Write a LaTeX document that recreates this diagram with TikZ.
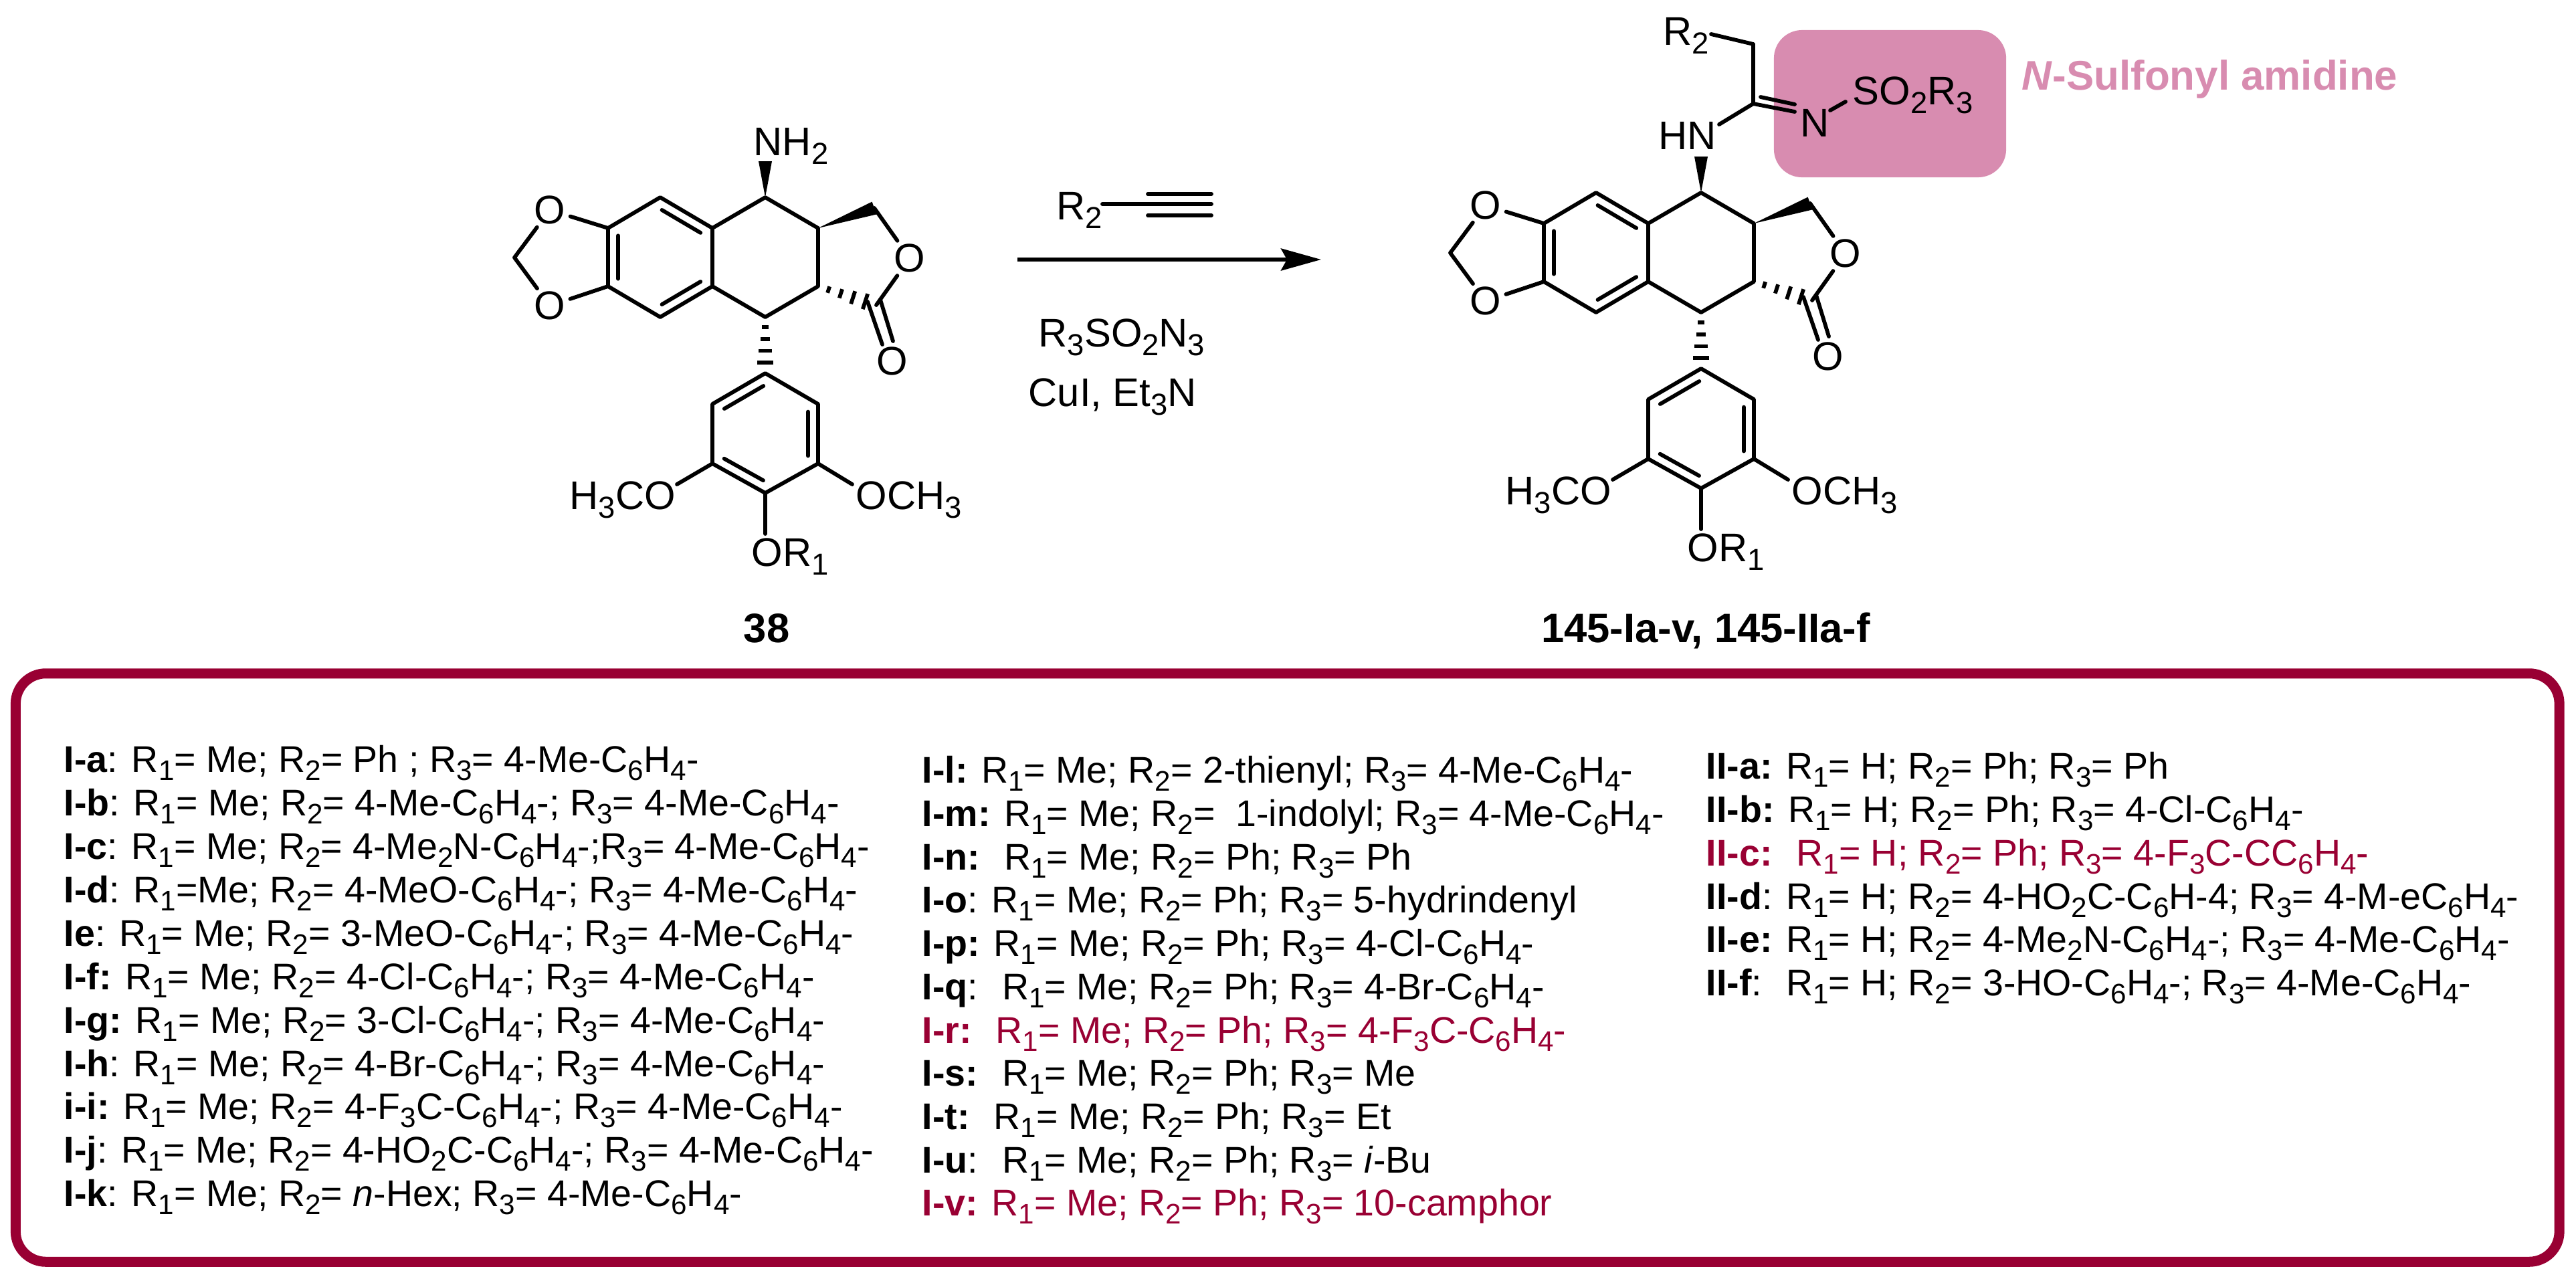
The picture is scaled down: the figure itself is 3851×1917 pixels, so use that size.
\documentclass[tikz,border=0pt]{standalone}
\usepackage{fontspec}
\setmainfont{Liberation Sans}
\usetikzlibrary{calc,arrows.meta}
\definecolor{boxred}{HTML}{990033}
\definecolor{amidine}{HTML}{D88CB0}
\newcommand{\dn}[1]{\raisebox{-.22em}{\scalebox{.76}{#1}}}
\newcommand{\innerbond}[2]{\draw[bond] ($(#1)!.13!(#2)!.15cm!-90:(#2)$) -- ($(#2)!.13!(#1)!.15cm!90:(#1)$);}
\newcommand{\wedgebond}[2]{\fill (#1) -- ($(#2)!.1cm!90:(#1)$) -- ($(#2)!.1cm!-90:(#1)$) -- cycle;}
\newcommand{\hashbond}[2]{\foreach \t/\w in {.18/.05,.39/.07,.60/.10,.81/.12}{
	\path ($(#1)!\t!(#2)$) coordinate (hp);
	\draw[bond,line cap=butt] ($(hp)!\w cm!90:(#2)$) -- ($(hp)!\w cm!-90:(#2)$);}}
\tikzset{
	bond/.style={line width=1.65pt,line cap=round,line join=round},
	atom/.style={circle,inner sep=0pt,font=\fontsize{17}{20}\selectfont},
	lab/.style={inner sep=0pt,anchor=base west,font=\fontsize{17}{20}\selectfont},
	rowtxt/.style={inner sep=0pt,anchor=base west,font=\fontsize{15.8}{18}\selectfont},
	hitrow/.style={rowtxt,text=boxred},
	podo/.pic={
		% benzo ring
		\coordinate (a1) at (909,341); \coordinate (a2) at (987,295); \coordinate (a3) at (1065,341);
		\coordinate (a4) at (1065,428); \coordinate (a5) at (987,474); \coordinate (a6) at (909,428);
		% middle ring
		\coordinate (b1) at (1144,295); \coordinate (b2) at (1223,341);
		\coordinate (b3) at (1223,428); \coordinate (b4) at (1144,474);
		% aryl ring
		\coordinate (c1) at (1144,558); \coordinate (c2) at (1223,604); \coordinate (c3) at (1223,693);
		\coordinate (c4) at (1144,737); \coordinate (c5) at (1065,693); \coordinate (c6) at (1065,604);
		% dioxole
		\node[atom] (ot) at (822,314) {O};
		\node[atom] (ob) at (822,457) {O};
		\coordinate (cm) at (769,385);
		% lactone
		\coordinate (lh) at (1307,311);
		\coordinate (lc) at (1310,456);
		\node[atom] (lo) at (1360,386) {O};
		\node[atom] (co) at (1334,540) {O};
		\coordinate (d1) at (1297,451); \coordinate (d2) at (1319,515);
		\coordinate (d3) at (1316,448); \coordinate (d4) at (1335,510);
		\draw[bond] (a1) -- (a2) -- (a3) -- (a4) -- (a5) -- (a6) -- cycle;
		\draw[bond] (a3) -- (b1) -- (b2) -- (b3) -- (b4) -- (a4);
		\draw[bond] (c1) -- (c2) -- (c3) -- (c4) -- (c5) -- (c6) -- cycle;
		\innerbond{a2}{a3} \innerbond{a4}{a5} \innerbond{a6}{a1}
		\innerbond{c2}{c3} \innerbond{c4}{c5} \innerbond{c6}{c1}
		\draw[bond] (a1) -- (ot) -- (cm) -- (ob) -- (a6);
		\draw[bond] (lh) -- (lo) -- (lc);
		\draw[bond] (d1) -- (d2);
		\draw[bond] (d3) -- (d4);
		\hashbond{b3}{lc}
		\hashbond{b4}{c1}
		\wedgebond{b2}{lh}
		\coordinate (nw) at (1144,241);
		\wedgebond{b1}{nw}
		% ring substituents
		\node[lab] (hco) at (851,761) {H\dn{3}CO};
		\node[lab] (och) at (1279,761) {OCH\dn{3}};
		\node[lab] (orr) at (1123,846) {OR\dn{1}};
		\coordinate (e5) at (1012,724); \coordinate (e3) at (1274,724); \coordinate (e4) at (1144,798);
		\draw[bond] (c5) -- (e5);
		\draw[bond] (c3) -- (e3);
		\draw[bond] (c4) -- (e4);
	}
}
\begin{document}
\begin{tikzpicture}[x=0.01cm,y=-0.01cm]
	\useasboundingbox (0,0) rectangle (3851,1917);

	% highlight goes first, bonds lie over it
	\node[fill=amidine,rounded corners=.42cm,minimum width=3.47cm,minimum height=2.2cm,inner sep=0pt] (hilite) at (2825.5,155) {};
	\node[lab,anchor=base west,text=amidine,font=\fontsize{17.6}{20}\selectfont\bfseries] (amlabel) at (3022,134) {\textit{N}-Sulfonyl amidine};

	% substrate and product
	\pic (lf) at (0,0) {podo};
	\pic (rt) at (1399,-7) {podo};

	\node[lab] (nh2) at (1126,232) {NH\dn{2}};
	\node[lab,anchor=base,font=\fontsize{17.5}{20}\selectfont\bfseries] (cpd38) at (1146,960) {38};
	\node[lab,anchor=base,font=\fontsize{17.5}{20}\selectfont\bfseries] (cpd145) at (2550,960) {145-Ia-v, 145-IIa-f};

	% amidine on the product
	\node[lab] (hn) at (2479,223) {HN};
	\node[lab] (r2p) at (2486,67) {R\dn{2}};
	\node[lab] (nim) at (2691,204) {N};
	\node[lab] (so2) at (2769,156) {SO\dn{2}R\dn{3}};
	\coordinate (cam) at (2621,155);
	\coordinate (ch2) at (2621,66);
	\coordinate (r2e) at (2558,51);
	\coordinate (hne) at (2570,186);
	\coordinate (nl) at (2736,165);
	\coordinate (sl) at (2759,152);
	\coordinate (dbA) at (2621,155);
	\coordinate (dbB) at (2683,167);
	\coordinate (dbC) at (2632,145);
	\coordinate (dbD) at (2683,156);
	\draw[bond] (r2e) -- (ch2) -- (cam) -- (hne);
	\draw[bond] (dbA) -- (dbB);
	\draw[bond] (dbC) -- (dbD);
	\draw[bond] (nl) -- (sl);

	% reaction arrow with reagents
	\coordinate (arL) at (1521,388);
	\coordinate (arR) at (1975,388);
	\draw[line width=1.55pt,-{Stealth[length=.6cm,width=.33cm,inset=.09cm]}] (arL) -- (arR);
	\node[lab] (r2y) at (1579,328) {R\dn{2}};
	\coordinate (yL) at (1648,305); \coordinate (yR) at (1811,305);
	\coordinate (yU) at (1716,290); \coordinate (yV) at (1811,290);
	\coordinate (yW) at (1716,322); \coordinate (yX) at (1811,322);
	\draw[bond] (yL) -- (yR);
	\draw[bond] (yU) -- (yV);
	\draw[bond] (yW) -- (yX);
	\node[lab] (azide) at (1552,518) {R\dn{3}SO\dn{2}N\dn{3}};
	\node[lab] (cat) at (1537,607) {CuI, Et\dn{3}N};

	% table of substituents
	\node[draw=boxred,line width=.15cm,rounded corners=.45cm,minimum width=38.005cm,minimum height=8.79cm,inner sep=0pt] (frame) at (1924.75,1446.5) {};

	\node[rowtxt] (ia) at (95,1154) {\textbf{I-a}: R\dn{1}= Me; R\dn{2}= Ph ; R\dn{3}= 4-Me-C\dn{6}H\dn{4}-};
	\node[rowtxt] (ib) at (95,1219) {\textbf{I-b}: R\dn{1}= Me; R\dn{2}= 4-Me-C\dn{6}H\dn{4}-; R\dn{3}= 4-Me-C\dn{6}H\dn{4}-};
	\node[rowtxt] (ic) at (95,1284) {\textbf{I-c}: R\dn{1}= Me; R\dn{2}= 4-Me\dn{2}N-C\dn{6}H\dn{4}-;R\dn{3}= 4-Me-C\dn{6}H\dn{4}-};
	\node[rowtxt] (id) at (95,1349) {\textbf{I-d}: R\dn{1}=Me; R\dn{2}= 4-MeO-C\dn{6}H\dn{4}-; R\dn{3}= 4-Me-C\dn{6}H\dn{4}-};
	\node[rowtxt] (ie) at (95,1414) {\textbf{Ie}: R\dn{1}= Me; R\dn{2}= 3-MeO-C\dn{6}H\dn{4}-; R\dn{3}= 4-Me-C\dn{6}H\dn{4}-};
	\node[rowtxt] (if) at (95,1479) {\textbf{I-f:} R\dn{1}= Me; R\dn{2}= 4-Cl-C\dn{6}H\dn{4}-; R\dn{3}= 4-Me-C\dn{6}H\dn{4}-};
	\node[rowtxt] (ig) at (95,1544) {\textbf{I-g:} R\dn{1}= Me; R\dn{2}= 3-Cl-C\dn{6}H\dn{4}-; R\dn{3}= 4-Me-C\dn{6}H\dn{4}-};
	\node[rowtxt] (ih) at (95,1609) {\textbf{I-h}: R\dn{1}= Me; R\dn{2}= 4-Br-C\dn{6}H\dn{4}-; R\dn{3}= 4-Me-C\dn{6}H\dn{4}-};
	\node[rowtxt] (ii) at (95,1673) {\textbf{i-i:} R\dn{1}= Me; R\dn{2}= 4-F\dn{3}C-C\dn{6}H\dn{4}-; R\dn{3}= 4-Me-C\dn{6}H\dn{4}-};
	\node[rowtxt] (ij) at (95,1738) {\textbf{I-j}: R\dn{1}= Me; R\dn{2}= 4-HO\dn{2}C-C\dn{6}H\dn{4}-; R\dn{3}= 4-Me-C\dn{6}H\dn{4}-};
	\node[rowtxt] (ik) at (95,1803) {\textbf{I-k}: R\dn{1}= Me; R\dn{2}= \textit{n}-Hex; R\dn{3}= 4-Me-C\dn{6}H\dn{4}-};

	\node[rowtxt] (il) at (1378,1170) {\textbf{I-l:} R\dn{1}= Me; R\dn{2}= 2-thienyl; R\dn{3}= 4-Me-C\dn{6}H\dn{4}-};
	\node[rowtxt] (im) at (1378,1235) {\textbf{I-m:} R\dn{1}= Me; R\dn{2}=~ 1-indolyl; R\dn{3}= 4-Me-C\dn{6}H\dn{4}-};
	\node[rowtxt] (in) at (1378,1300) {\textbf{I-n:}~ R\dn{1}= Me; R\dn{2}= Ph; R\dn{3}= Ph};
	\node[rowtxt] (io) at (1378,1364) {\textbf{I-o}: R\dn{1}= Me; R\dn{2}= Ph; R\dn{3}= 5-hydrindenyl};
	\node[rowtxt] (ip) at (1378,1429) {\textbf{I-p:} R\dn{1}= Me; R\dn{2}= Ph; R\dn{3}= 4-Cl-C\dn{6}H\dn{4}-};
	\node[rowtxt] (iq) at (1378,1494) {\textbf{I-q}:~ R\dn{1}= Me; R\dn{2}= Ph; R\dn{3}= 4-Br-C\dn{6}H\dn{4}-};
	\node[hitrow] (ir) at (1378,1559) {\textbf{I-r:}~ R\dn{1}= Me; R\dn{2}= Ph; R\dn{3}= 4-F\dn{3}C-C\dn{6}H\dn{4}-};
	\node[rowtxt] (is) at (1378,1623) {\textbf{I-s:}~ R\dn{1}= Me; R\dn{2}= Ph; R\dn{3}= Me};
	\node[rowtxt] (it) at (1378,1688) {\textbf{I-t:}~ R\dn{1}= Me; R\dn{2}= Ph; R\dn{3}= Et};
	\node[rowtxt] (iu) at (1378,1753) {\textbf{I-u}:~ R\dn{1}= Me; R\dn{2}= Ph; R\dn{3}= \textit{i}-Bu};
	\node[hitrow] (iv) at (1378,1817) {\textbf{I-v:} R\dn{1}= Me; R\dn{2}= Ph; R\dn{3}= 10-camphor};

	\node[rowtxt] (iia) at (2550,1164) {\textbf{II-a:} R\dn{1}= H; R\dn{2}= Ph; R\dn{3}= Ph};
	\node[rowtxt] (iib) at (2550,1229) {\textbf{II-b:} R\dn{1}= H; R\dn{2}= Ph; R\dn{3}= 4-Cl-C\dn{6}H\dn{4}-};
	\node[hitrow] (iic) at (2550,1294) {\textbf{II-c:}~ R\dn{1}= H; R\dn{2}= Ph; R\dn{3}= 4-F\dn{3}C-CC\dn{6}H\dn{4}-};
	\node[rowtxt] (iid) at (2550,1359) {\textbf{II-d}: R\dn{1}= H; R\dn{2}= 4-HO\dn{2}C-C\dn{6}H-4; R\dn{3}= 4-M-eC\dn{6}H\dn{4}-};
	\node[rowtxt] (iie) at (2550,1423) {\textbf{II-e:} R\dn{1}= H; R\dn{2}= 4-Me\dn{2}N-C\dn{6}H\dn{4}-; R\dn{3}= 4-Me-C\dn{6}H\dn{4}-};
	\node[rowtxt] (iif) at (2550,1488) {\textbf{II-f}:~ R\dn{1}= H; R\dn{2}= 3-HO-C\dn{6}H\dn{4}-; R\dn{3}= 4-Me-C\dn{6}H\dn{4}-};
\end{tikzpicture}
\end{document}
